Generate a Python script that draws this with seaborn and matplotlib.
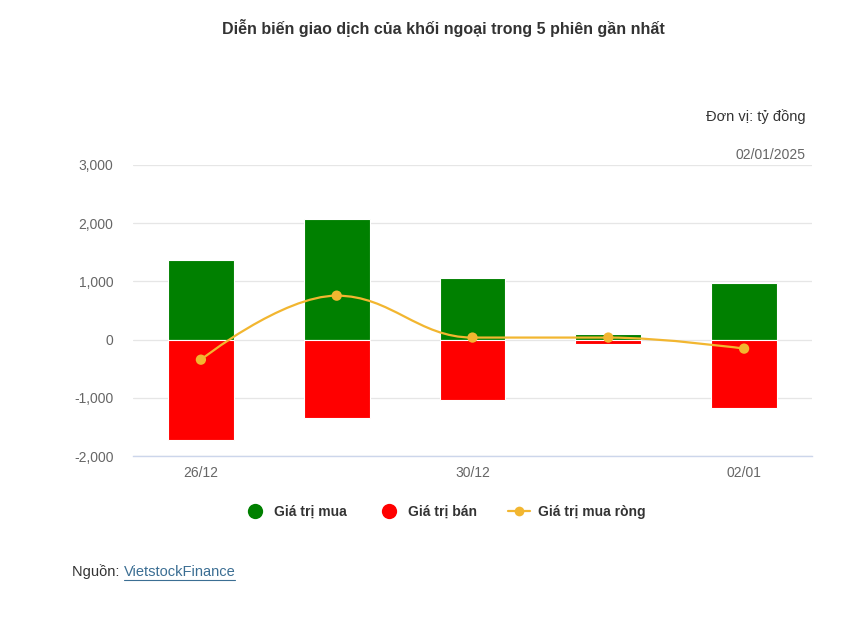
import numpy as np
import pandas as pd
import seaborn as sns
import matplotlib.pyplot as plt
from matplotlib.path import Path
from matplotlib.patches import PathPatch
from matplotlib.lines import Line2D

# Du lieu (ty dong)
phien = ['26/12', '27/12', '30/12', '31/12', '02/01']
nhan_truc_x = ['26/12', '', '30/12', '', '02/01']
gia_tri_mua = [1360, 2080, 1050, 100, 980]
gia_tri_ban = [-1720, -1340, -1040, -70, -1170]
mua_rong = [-345, 755, 35, 35, -155]

xanh = '#008000'
do = '#ff0000'
vang = '#f2b630'

sns.set_theme(style='white')
plt.rcParams['font.family'] = ['Liberation Sans', 'DejaVu Sans']

dados = pd.DataFrame({
    'phien': phien * 2,
    'gia_tri': gia_tri_mua + gia_tri_ban,
    'loai': ['Giá trị mua'] * 5 + ['Giá trị bán'] * 5,
})

fig = plt.figure(figsize=(8.6, 6.17), dpi=100)
ax = fig.add_axes([133 / 860, 1 - 456 / 617, (812 - 133) / 860, (456 - 165) / 617])

sns.barplot(data=dados, x='phien', y='gia_tri', hue='loai', dodge=False,
            palette=[xanh, do], width=0.485, ax=ax, legend=False,
            edgecolor='white', linewidth=0.8, saturation=1)


# duong spline kieu Highcharts cho gia tri mua rong
def spline_path(xs, ys, smoothing=1.5):
    n = len(xs)
    denom = smoothing + 1
    left = [(xs[i], ys[i]) for i in range(n)]
    right = [(xs[i], ys[i]) for i in range(n)]
    for i in range(1, n - 1):
        px, py = xs[i], ys[i]
        lx, ly = xs[i - 1], ys[i - 1]
        nx, ny = xs[i + 1], ys[i + 1]
        lcx = (smoothing * px + lx) / denom
        lcy = (smoothing * py + ly) / denom
        rcx = (smoothing * px + nx) / denom
        rcy = (smoothing * py + ny) / denom
        corr = ((rcy - lcy) * (rcx - px)) / (rcx - lcx) + py - rcy
        lcy += corr
        rcy += corr
        if lcy > ly and lcy > py:
            lcy = max(ly, py)
            rcy = 2 * py - lcy
        elif lcy < ly and lcy < py:
            lcy = min(ly, py)
            rcy = 2 * py - lcy
        if rcy > ny and rcy > py:
            rcy = max(ny, py)
            lcy = 2 * py - rcy
        elif rcy < ny and rcy < py:
            rcy = min(ny, py)
            lcy = 2 * py - rcy
        left[i] = (lcx, lcy)
        right[i] = (rcx, rcy)
    verts = [(xs[0], ys[0])]
    codes = [Path.MOVETO]
    for i in range(1, n):
        verts += [right[i - 1], left[i], (xs[i], ys[i])]
        codes += [Path.CURVE4] * 3
    return Path(verts, codes)


xs = np.arange(len(phien), dtype=float)
ax.add_patch(PathPatch(spline_path(xs, mua_rong), facecolor='none',
                       edgecolor=vang, linewidth=1.6, zorder=4))
sns.scatterplot(x=xs, y=mua_rong, color=vang, s=55, edgecolor='none', ax=ax, zorder=5)

ax.set_xlim(-0.5, 4.5)
ax.set_ylim(-2000, 3000)
ax.set_yticks([-2000, -1000, 0, 1000, 2000, 3000])
ax.set_yticklabels([f'{v:,}' for v in [-2000, -1000, 0, 1000, 2000, 3000]])
ax.set_xticks(range(len(phien)))
ax.set_xticklabels(nhan_truc_x)
ax.set_xlabel('')
ax.set_ylabel('')
ax.grid(axis='y', color='#e6e6e6', linewidth=0.9)
ax.set_axisbelow(True)
for s in ['top', 'right', 'left']:
    ax.spines[s].set_visible(False)
ax.spines['bottom'].set_color('#ccd6eb')
ax.spines['bottom'].set_linewidth(1)
ax.tick_params(axis='both', length=0, labelsize=10, labelcolor='#666666')
ax.tick_params(axis='x', pad=7)
ax.tick_params(axis='y', pad=14)

fig.text(443 / 860, 1 - 28 / 617, 'Diễn biến giao dịch của khối ngoại trong 5 phiên gần nhất',
         ha='center', va='center', fontsize=11.5, fontweight='bold', color='#333333')
fig.text(806 / 860, 1 - 117 / 617, 'Đơn vị: tỷ đồng', ha='right', va='center',
         fontsize=10.5, color='#333333')
fig.text(806 / 860, 1 - 155 / 617, '02/01/2025', ha='right', va='center',
         fontsize=10, color='#666666')

handles = [
    Line2D([], [], marker='o', color='none', markerfacecolor=xanh, markeredgecolor='none', markersize=11),
    Line2D([], [], marker='o', color='none', markerfacecolor=do, markeredgecolor='none', markersize=11),
    Line2D([], [], marker='o', color=vang, markerfacecolor=vang, markeredgecolor='none',
           markersize=7, linewidth=1.6),
]
leg = fig.legend(handles, ['Giá trị mua', 'Giá trị bán', 'Giá trị mua ròng'],
                 loc='center', bbox_to_anchor=(445 / 860, 1 - 512 / 617), ncol=3,
                 frameon=False, handlelength=1.6, columnspacing=2.2, handletextpad=0.6,
                 prop={'weight': 'bold', 'size': 10})
for t in leg.get_texts():
    t.set_color('#333333')

t1 = fig.text(72 / 860, 1 - 572 / 617, 'Nguồn: ', ha='left', va='center',
              fontsize=10.5, color='#333333')
fig.canvas.draw()
bb = t1.get_window_extent()
t2 = fig.text(bb.x1 / 860, 1 - 572 / 617, 'VietstockFinance', ha='left', va='center',
              fontsize=10.5, color='#3b6e93')
fig.canvas.draw()
bb2 = t2.get_window_extent()
fig.add_artist(Line2D([bb2.x0 / 860, bb2.x1 / 860], [(bb2.y0 - 0.5) / 617] * 2,
                      color='#3b6e93', linewidth=0.8, transform=fig.transFigure))

fig.savefig('out.png', dpi=100)
